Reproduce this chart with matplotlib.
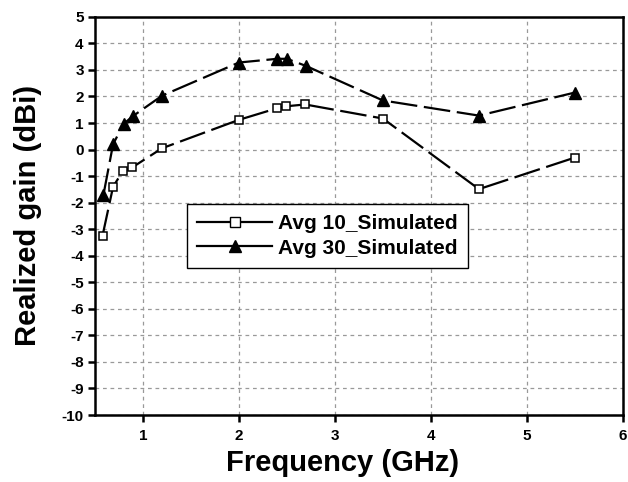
import matplotlib
matplotlib.use("Agg")
import matplotlib.pyplot as plt
from matplotlib.lines import Line2D

# frequency (GHz) and realized gain (dBi)
freq_10 = [0.58, 0.69, 0.79, 0.89, 1.2, 2.0, 2.4, 2.49, 2.69, 3.5, 4.5, 5.5]
gain_10 = [-3.25, -1.4, -0.82, -0.67, 0.05, 1.12, 1.56, 1.63, 1.7, 1.17, -1.49, -0.3]

freq_30 = [0.59, 0.69, 0.8, 0.9, 1.2, 2.0, 2.4, 2.5, 2.7, 3.5, 4.5, 5.5]
gain_30 = [-1.7, 0.2, 0.97, 1.27, 2.03, 3.28, 3.42, 3.42, 3.15, 1.85, 1.28, 2.15]

labels = ["Avg 10_Simulated", "Avg 30_Simulated"]

plt.rcParams["font.family"] = ["Liberation Sans", "DejaVu Sans"]
plt.rcParams["font.weight"] = "bold"
plt.rcParams["axes.unicode_minus"] = False

fig = plt.figure(figsize=(6.28, 4.82), dpi=100)
ax = fig.add_axes([0.151, 0.139, 0.841, 0.826])

dash = (12, 3)
ax.plot(freq_10, gain_10, color="black", lw=1.6, dashes=dash,
        marker="s", markersize=5.5, markerfacecolor="white",
        markeredgecolor="black", markeredgewidth=1.1)
ax.plot(freq_30, gain_30, color="black", lw=1.6, dashes=dash,
        marker="^", markersize=8, markerfacecolor="black",
        markeredgecolor="black")

ax.set_xlim(0.5, 6)
ax.set_ylim(-10, 5)
ax.set_xticks([1, 2, 3, 4, 5, 6])
ax.set_yticks(range(-10, 6))
ax.grid(True, color="#999999", linestyle=(0, (3, 3)), linewidth=0.9)

for side in ax.spines.values():
    side.set_linewidth(1.8)
ax.tick_params(direction="out", length=5, width=1.8, labelsize=11, pad=3)
for t in ax.get_xticklabels() + ax.get_yticklabels():
    t.set_fontweight("bold")
ax.tick_params(axis="x", pad=5)

ax.set_xlabel("Frequency (GHz)", fontsize=21, fontweight="bold")
ax.set_ylabel("Realized gain (dBi)", fontsize=21, fontweight="bold")
ax.xaxis.set_label_coords(0.47, -0.086)
ax.yaxis.set_label_coords(-0.10, 0.5)

handles = [
    Line2D([], [], color="black", lw=1.6, marker="s", markersize=7,
           markerfacecolor="white", markeredgecolor="black"),
    Line2D([], [], color="black", lw=1.6, marker="^", markersize=9,
           markerfacecolor="black"),
]
leg = ax.legend(handles, labels, loc="upper left",
                bbox_to_anchor=(0.174, 0.53), borderaxespad=0, fancybox=False,
                edgecolor="black", framealpha=1, handlelength=3.6,
                handletextpad=0.3, borderpad=0.5, labelspacing=0.25,
                prop={"size": 15, "weight": "bold"})
leg.get_frame().set_linewidth(1.0)

fig.savefig("out.png", dpi=100)
